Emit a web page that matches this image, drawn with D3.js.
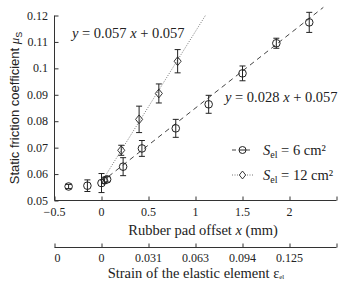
<!DOCTYPE html>
<html><head><meta charset="utf-8">
<script src="https://cdn.jsdelivr.net/npm/d3@7"></script>
<style>body{margin:0;background:#fff}svg{display:block}.serif{font-family:"Liberation Serif","Times New Roman",Times,serif}.sans{font-family:"Liberation Sans",Arial,sans-serif}</style>
</head><body><svg id="c" width="341" height="281"></svg>
<script>
const xTicks=[-0.5,0,0.5,1,1.5,2,2.5];
const xTickLabels=["−0.5","0","0.5","1","1.5","2",""];
const strainLabels=["0","0","0.031","0.063","0.094","0.125",""];
const yTicks=[0.05,0.06,0.07,0.08,0.09,0.1,0.11,0.12];
const yTickLabels=["0.05","0.06","0.07","0.08","0.09","0.1","0.11","0.12"];
const s6x=[-0.35,-0.15,0,0.06,0.23,0.43,0.79,1.14,1.5,1.86,2.21];
const s6y=[0.0553,0.0556,0.0566,0.0580,0.0628,0.0697,0.0773,0.0864,0.0981,0.1095,0.1174];
const s6e=[0.0008,0.0022,0.0036,0.0010,0.0034,0.0030,0.0034,0.0034,0.0028,0.0019,0.0038];
const s12x=[0.03,0.21,0.40,0.61,0.81];
const s12y=[0.0576,0.0690,0.0807,0.0905,0.1027];
const s12e=[0.0012,0.0019,0.0050,0.0036,0.0044];
const fit6=[0.028,0.057], fit12=[0.057,0.057];

const svg=d3.select("#c");
const x=d3.scaleLinear().domain([-0.5,2.5]).range([54.5,336.5]);
const y=d3.scaleLinear().domain([0.05,0.12]).range([200.5,15.5]);
const ink="#333";
const T=(c)=>svg.append("text").attr("fill","#222").attr("class",c||"serif");

// Y axis
const ya=svg.append("g").attr("transform","translate(54.5,0)")
 .call(d3.axisRight(y).tickValues(yTicks).tickSize(4).tickFormat(""));
ya.select(".domain").attr("d","M0,15.5V200.5").attr("stroke",ink);
ya.selectAll(".tick line").attr("stroke",ink);
yTicks.forEach((t,i)=>T().attr("x",48).attr("y",y(t)+4).attr("text-anchor","end").attr("font-size",12).text(yTickLabels[i]));

// X axes
function xAxis(yy,labels,ly){
 const g=svg.append("g").attr("transform",`translate(0,${yy})`)
  .call(d3.axisTop(x).tickValues(xTicks).tickSize(4).tickFormat(""));
 g.select(".domain").attr("d",`M${x(-0.5)},0H${x(2.5)}`).attr("stroke",ink);
 g.selectAll(".tick line").attr("stroke",ink);
 xTicks.forEach((t,i)=>T().attr("x",x(t)+(i==0&&labels[0]=="0"?3:0)).attr("y",ly).attr("text-anchor","middle").attr("font-size",12).text(labels[i]));
}
xAxis(200.5,xTickLabels,216);
xAxis(247.5,strainLabels,262);

// titles
const xt=T().attr("x",203).attr("y",235).attr("text-anchor","middle").attr("font-size",14.5);
xt.append("tspan").text("Rubber pad offset ");xt.append("tspan").attr("font-style","italic").text("x");xt.append("tspan").text(" (mm)");
const st=T().attr("x",196).attr("y",278).attr("text-anchor","middle").attr("font-size",14.5);
st.append("tspan").text("Strain of the elastic element ε");st.append("tspan").attr("font-size",7).attr("dy",1).text("el");
const yt=T("sans").attr("transform","translate(19,108) rotate(-90)").attr("text-anchor","middle").attr("font-size",13);
yt.append("tspan").text("Static friction coefficient ");yt.append("tspan").attr("font-style","italic").attr("class","serif").text("μ");yt.append("tspan").attr("font-size",9).attr("dy",3).text("S");

// fit lines
const line=d3.line().x(d=>x(d[0])).y(d=>y(d[1]));
svg.append("path").datum([[0,fit6[1]],[2.36,fit6[0]*2.36+fit6[1]]]).attr("d",line).attr("fill","none").attr("stroke","#444").attr("stroke-width",1).attr("stroke-dasharray","5,4");
const x12=(0.12-fit12[1])/fit12[0];
svg.append("path").datum([[0,fit12[1]],[x12,0.12]]).attr("d",line).attr("fill","none").attr("stroke","#777").attr("stroke-width",1).attr("stroke-dasharray","1,1.5");

// error bars + markers
function errs(xs,ys,es){
 xs.forEach((v,i)=>{
  const cx=x(v),y1=y(ys[i]-es[i]),y2=y(ys[i]+es[i]);
  svg.append("path").attr("d",`M${cx},${y1}V${y2}M${cx-3},${y1}H${cx+3}M${cx-3},${y2}H${cx+3}`).attr("stroke","#222").attr("fill","none").attr("stroke-width",1);
 });
}
errs(s6x,s6y,s6e);errs(s12x,s12y,s12e);
const circ=(cx,cy)=>svg.append("circle").attr("cx",cx).attr("cy",cy).attr("r",3.8).attr("fill","none").attr("stroke","#222").attr("stroke-width",1);
const diam=(cx,cy)=>svg.append("path").attr("d",d3.symbol(d3.symbolDiamond2,50)()).attr("transform",`translate(${cx},${cy}) scale(0.8,1)`).attr("fill","none").attr("stroke","#222").attr("stroke-width",1);
s6x.forEach((v,i)=>circ(x(v),y(s6y[i])));
s12x.forEach((v,i)=>diam(x(v),y(s12y[i])));

// equations
const e1=T().attr("x",72).attr("y",38).attr("font-size",14.5);
e1.append("tspan").attr("font-style","italic").text("y");e1.append("tspan").text(" = 0.057 ");e1.append("tspan").attr("font-style","italic").text("x");e1.append("tspan").text(" + 0.057");
const e2=T().attr("x",225).attr("y",102).attr("font-size",14.5);
e2.append("tspan").attr("font-style","italic").text("y");e2.append("tspan").text(" = 0.028 ");e2.append("tspan").attr("font-style","italic").text("x");e2.append("tspan").text(" + 0.057");

// legend
const lg=[{y:150,t:"6",dash:"4,3",col:"#444",m:"c"},{y:175,t:"12",dash:"1,1.5",col:"#777",m:"d"}];
lg.forEach(l=>{
 svg.append("path").attr("d",`M232,${l.y}H253`).attr("stroke",l.col).attr("stroke-dasharray",l.dash).attr("fill","none");
 if(l.m=="c") svg.append("circle").attr("cx",242.5).attr("cy",l.y).attr("r",3.5).attr("fill","#fff").attr("stroke","#222");
 else svg.append("path").attr("d",d3.symbol(d3.symbolDiamond2,40)()).attr("transform",`translate(242.5,${l.y}) scale(0.8,1)`).attr("fill","#fff").attr("stroke","#222");
 if(l.m=="c") svg.append("path").attr("d",`M239,${l.y}H246`).attr("stroke","#222");
 const t=T().attr("x",263).attr("y",l.y+5).attr("font-size",14.5);
 t.append("tspan").attr("font-style","italic").text("S");t.append("tspan").attr("font-size",10).attr("dy",3).text("el");t.append("tspan").attr("dy",-3).text(` = ${l.t} cm²`);
});
</script></body></html>
